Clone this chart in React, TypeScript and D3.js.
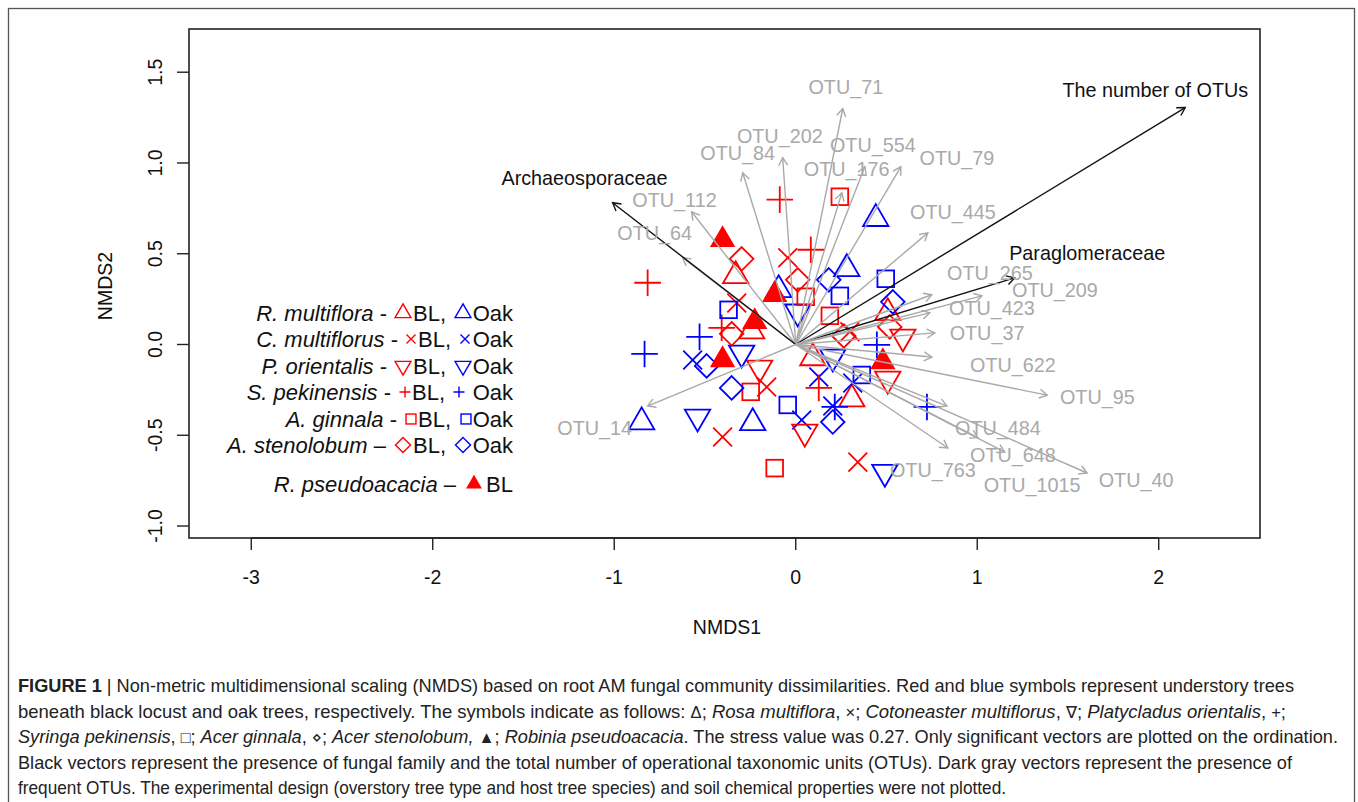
import React from "react";
import * as d3 from "d3";

// ---------- data ----------
const xTicks = [-3, -2, -1, 0, 1, 2];
const yTicks = [-1.0, -0.5, 0.0, 0.5, 1.0, 1.5];
const yTickLabels = ["-1.0", "-0.5", "0.0", "0.5", "1.0", "1.5"];

// site scores [NMDS1, NMDS2]
const rMultifloraBL = [[-0.331, 0.378], [-0.243, 0.074], [0.094, -0.074], [0.507, 0.174], [0.309, -0.301]];
const rMultifloraOak = [[0.441, 0.693], [0.281, 0.417], [-0.094, 0.301], [-0.849, -0.427], [-0.237, -0.432]];
const cMultiflorusBL = [[-0.044, 0.478], [-0.325, 0.229], [-0.16, -0.234], [-0.403, -0.51], [0.342, -0.648], [0.298, 0.07]];
const cMultiflorusOak = [[-0.568, -0.085], [0.127, -0.179], [0.314, -0.212], [0.204, -0.339], [0.033, -0.416]];
const pOrientalisBL = [[-0.199, -0.129], [0.05, -0.482], [0.59, 0.042], [0.507, -0.19]];
const pOrientalisOak = [[-0.298, -0.046], [-0.541, -0.399], [0.011, 0.18], [0.204, -0.068], [0.491, -0.703]];
const sPekinensisBL = [[-0.088, 0.798], [0.083, 0.522], [-0.816, 0.34], [-0.408, 0.092], [0.127, -0.239]];
const sPekinensisOak = [[-0.53, 0.042], [-0.833, -0.052], [0.447, -0.002], [0.215, -0.344], [0.723, -0.344]];
const aGinnalaBL = [[0.243, 0.814], [0.055, 0.263], [0.188, 0.158], [-0.248, -0.261], [-0.116, -0.681]];
const aGinnalaOak = [[-0.37, 0.191], [0.496, 0.362], [0.243, 0.268], [-0.044, -0.333], [0.364, -0.168]];
const aStenolobumBL = [[-0.298, 0.472], [0.011, 0.356], [-0.353, 0.059], [0.518, 0.097], [0.265, 0.047]];
const aStenolobumOak = [[0.182, 0.356], [0.535, 0.235], [-0.491, -0.118], [-0.353, -0.239], [0.204, -0.427]];
const rPseudoacaciaBL = [[-0.403, 0.577], [-0.116, 0.274], [-0.226, 0.125], [-0.403, -0.085], [0.48, -0.096]];

const series = [
  { pts: rMultifloraBL, sym: "tri", col: "red" },
  { pts: rMultifloraOak, sym: "tri", col: "blue" },
  { pts: cMultiflorusBL, sym: "x", col: "red" },
  { pts: cMultiflorusOak, sym: "x", col: "blue" },
  { pts: pOrientalisBL, sym: "tridown", col: "red" },
  { pts: pOrientalisOak, sym: "tridown", col: "blue" },
  { pts: sPekinensisBL, sym: "plus", col: "red" },
  { pts: sPekinensisOak, sym: "plus", col: "blue" },
  { pts: aGinnalaBL, sym: "square", col: "red" },
  { pts: aGinnalaOak, sym: "square", col: "blue" },
  { pts: aStenolobumBL, sym: "diamond", col: "red" },
  { pts: aStenolobumOak, sym: "diamond", col: "blue" },
  { pts: rPseudoacaciaBL, sym: "trifill", col: "red" },
];

// fitted vectors (arrow tip) and label positions
const vectorNames = ["OTU_71", "OTU_202", "OTU_84", "OTU_554", "OTU_176", "OTU_79", "OTU_112", "OTU_64",
  "Archaeosporaceae", "OTU_445", "The number of OTUs", "Paraglomeraceae", "OTU_265", "OTU_209", "OTU_423",
  "OTU_37", "OTU_622", "OTU_95", "OTU_484", "OTU_763", "OTU_648", "OTU_1015", "OTU_40", "OTU_14"];
const vectorX = [0.259, -0.072, -0.292, 0.381, 0.254, 0.579, -0.574, -0.623, -1.009, 0.728, 2.146, 1.206, 0.75, 1.026, 0.739,
  0.766, 0.75, 1.386, 0.833, 0.838, 1.004, 1.152, 1.605, -0.816];
const vectorY = [1.3, 1.029, 0.946, 0.98, 0.836, 0.979, 0.731, 0.478, 0.781, 0.615, 1.305, 0.367, 0.274, 0.268, 0.174,
  0.064, -0.069, -0.279, -0.339, -0.57, -0.513, -0.593, -0.708, -0.339];
const labelX = [0.276, -0.088, -0.32, 0.425, 0.281, 0.888, -0.668, -0.777, -1.164, 0.866, 1.981, 1.606, 1.07, 1.428, 1.081,
  1.054, 1.197, 1.662, 1.114, 0.756, 1.197, 1.302, 1.875, -1.108];
const labelY = [1.421, 1.149, 1.056, 1.101, 0.969, 1.029, 0.797, 0.615, 0.917, 0.731, 1.405, 0.505, 0.395, 0.301, 0.202,
  0.064, -0.112, -0.29, -0.46, -0.692, -0.61, -0.773, -0.747, -0.46];
const familyVectors = ["Archaeosporaceae", "The number of OTUs", "Paraglomeraceae"];

const legendSpecies = ["R. multiflora", "C. multiflorus", "P. orientalis", "S. pekinensis", "A. ginnala", "A. stenolobum", "R. pseudoacacia"];
const legendDash = [" -", " -", " -", " -", " -", " \u2013", " \u2013"];
const legendSymbols = ["tri", "x", "tridown", "plus", "square", "diamond", "trifill"];

// caption segments: b = bold, i = italic, n = normal, s = symbol glyph
const captionLines = [
  [["b", "FIGURE 1"], ["n", " | Non-metric multidimensional scaling (NMDS) based on root AM fungal community dissimilarities. Red and blue symbols represent understory trees"]],
  [["n", "beneath black locust and oak trees, respectively. The symbols indicate as follows: "], ["s", "\u0394"], ["n", "; "], ["i", "Rosa multiflora"], ["n", ", "], ["s", "\u00d7"], ["n", "; "], ["i", "Cotoneaster multiflorus"], ["n", ", "], ["s", "\u2207"], ["n", "; "], ["i", "Platycladus orientalis"], ["n", ", "], ["s", "+"], ["n", ";"]],
  [["i", "Syringa pekinensis"], ["n", ", "], ["s", "\u25a1"], ["n", "; "], ["i", "Acer ginnala"], ["n", ", "], ["s", "\u22c4"], ["n", "; "], ["i", "Acer stenolobum,"], ["n", " "], ["s", "\u25b2"], ["n", "; "], ["i", "Robinia pseudoacacia"], ["n", ". The stress value was 0.27. Only significant vectors are plotted on the ordination."]],
  [["n", "Black vectors represent the presence of fungal family and the total number of operational taxonomic units (OTUs). Dark gray vectors represent the presence of"]],
  [["n", "frequent OTUs. The experimental design (overstory tree type and host tree species) and soil chemical properties were not plotted."]],
];

// ---------- layout ----------
const W = 1358;
const H = 802;
const x = d3.scaleLinear().domain([-3.343, 2.558]).range([189, 1260]);
const y = d3.scaleLinear().domain([-1.066, 1.738]).range([538, 29]);
const FONT = "'Liberation Sans', Arial, Helvetica, sans-serif";
const GRAY = "#a9a9a9";

function Symbol({ sym, cx, cy, s, col, sw }: any) {
  const tr = 1.555 * s, txc = 1.3468 * s, tyc = 0.7775 * s;
  if (sym === "tri" || sym === "trifill") {
    const d = `M${cx},${cy - tr}L${cx + txc},${cy + tyc}L${cx - txc},${cy + tyc}Z`;
    return <path d={d} fill={sym === "trifill" ? col : "none"} stroke={sym === "trifill" ? "none" : col} strokeWidth={sw} />;
  }
  if (sym === "tridown") {
    const d = `M${cx},${cy + tr}L${cx + txc},${cy - tyc}L${cx - txc},${cy - tyc}Z`;
    return <path d={d} fill="none" stroke={col} strokeWidth={sw} />;
  }
  if (sym === "square") {
    const h = 0.886 * s;
    return <rect x={cx - h} y={cy - h} width={2 * h} height={2 * h} fill="none" stroke={col} strokeWidth={sw} />;
  }
  if (sym === "diamond") {
    const h = 1.2533 * s;
    return <path d={`M${cx},${cy - h}L${cx + h},${cy}L${cx},${cy + h}L${cx - h},${cy}Z`} fill="none" stroke={col} strokeWidth={sw} />;
  }
  if (sym === "x") {
    const h = s;
    return <path d={`M${cx - h},${cy - h}L${cx + h},${cy + h}M${cx - h},${cy + h}L${cx + h},${cy - h}`} fill="none" stroke={col} strokeWidth={sw} />;
  }
  // plus
  const h = 1.4142 * s;
  return <path d={`M${cx - h},${cy}L${cx + h},${cy}M${cx},${cy - h}L${cx},${cy + h}`} fill="none" stroke={col} strokeWidth={sw} />;
}

// legend symbol sizes (glyph-like, smaller than plot symbols)
const legendSymSize: any = { tri: 5.9, tridown: 5.9, trifill: 5.9, x: 4.5, plus: 3.9, square: 5.6, diamond: 6.0 };
// legend horizontal layout per row: name end, first symbol, "BL," start, second symbol
const legendLayout = [
  [387, 403, 413, 463],
  [398, 411, 418, 465],
  [387, 403, 413, 463],
  [391, 405, 412, 459],
  [397, 411, 418, 466],
  [386, 403, 413, 463],
  [456, 474, 486, 0],
];
const legendRowY = [313, 339, 366, 392, 419, 445, 484];

const captionWidths = [1276, 1268, 1320, 1274, 988];

export default function App() {
  const ox = x(0), oy = y(0);
  const arrowLen = 9;
  return (
    <svg width={W} height={H} style={{ position: "absolute", left: 0, top: 0, background: "#fff" }} fontFamily={FONT}>
      <rect x={0} y={0} width={W} height={H} fill="#fff" />
      {/* outer frame (continues below the visible area) */}
      <rect x={8.5} y={8.5} width={1346} height={820} fill="none" stroke="#555" strokeWidth={1.3} />

      {/* plot box */}
      <rect x={189} y={29} width={1071} height={509} fill="none" stroke="#222" strokeWidth={1.6} />

      {/* x axis */}
      <line x1={x(xTicks[0])} x2={x(xTicks[xTicks.length - 1])} y1={538} y2={538} stroke="#222" strokeWidth={1.6} />
      {xTicks.map((t) => (
        <g key={"xt" + t}>
          <line x1={x(t)} x2={x(t)} y1={538} y2={550} stroke="#222" strokeWidth={1.4} />
          <text x={x(t)} y={584} textAnchor="middle" fontSize={19.5} fill="#111">{t < 0 ? "-" + Math.abs(t) : String(t)}</text>
        </g>
      ))}
      <text x={727} y={634} textAnchor="middle" fontSize={19.5} fill="#111">NMDS1</text>

      {/* y axis */}
      {yTicks.map((t, i) => (
        <g key={"yt" + t}>
          <line x1={177} x2={189} y1={y(t)} y2={y(t)} stroke="#222" strokeWidth={1.4} />
          <text transform={`translate(162,${y(t)}) rotate(-90)`} textAnchor="middle" fontSize={19.5} fill="#111">{yTickLabels[i]}</text>
        </g>
      ))}
      <text transform={`translate(112,286) rotate(-90)`} textAnchor="middle" fontSize={19.5} fill="#111">NMDS2</text>

      {/* points */}
      {series.map((s, si) =>
        s.pts.map((p, pi) => (
          <Symbol key={`p${si}-${pi}`} sym={s.sym} cx={x(p[0])} cy={y(p[1])} s={9.4} col={s.col} sw={1.8} />
        ))
      )}

      {/* vectors */}
      {vectorNames.map((name, i) => {
        const tx = x(vectorX[i]), ty = y(vectorY[i]);
        const col = familyVectors.includes(name) ? "#111" : GRAY;
        const a = Math.atan2(ty - oy, tx - ox);
        const h1x = tx - arrowLen * Math.cos(a - Math.PI / 6), h1y = ty - arrowLen * Math.sin(a - Math.PI / 6);
        const h2x = tx - arrowLen * Math.cos(a + Math.PI / 6), h2y = ty - arrowLen * Math.sin(a + Math.PI / 6);
        return (
          <g key={"v" + name}>
            <line x1={ox} y1={oy} x2={tx} y2={ty} stroke={col} strokeWidth={1.4} />
            <path d={`M${h1x},${h1y}L${tx},${ty}L${h2x},${h2y}`} fill="none" stroke={col} strokeWidth={1.4} />
          </g>
        );
      })}
      {vectorNames.map((name, i) => (
        <text key={"vl" + name} x={x(labelX[i])} y={y(labelY[i])} dy="0.36em" textAnchor="middle" fontSize={19.8}
          fill={familyVectors.includes(name) ? "#111" : GRAY}>{name}</text>
      ))}

      {/* legend */}
      {legendSpecies.map((sp, i) => {
        const [nEnd, s1, bl, s2] = legendLayout[i];
        const cy = legendRowY[i];
        const base = cy + 8;
        const sym = legendSymbols[i];
        const ss = legendSymSize[sym];
        return (
          <g key={"lg" + i} fontSize={22} fill="#111">
            <text x={nEnd} y={base} textAnchor="end">
              <tspan fontStyle="italic">{sp}</tspan>
              <tspan>{legendDash[i]}</tspan>
            </text>
            <Symbol sym={sym} cx={s1} cy={cy} s={ss} col="red" sw={1.4} />
            {i < 6 ? (
              <>
                <text x={bl} y={base}>BL,</text>
                <Symbol sym={sym} cx={s2} cy={cy} s={ss} col="blue" sw={1.4} />
                <text x={513} y={base} textAnchor="end">Oak</text>
              </>
            ) : (
              <text x={513} y={base} textAnchor="end">BL</text>
            )}
          </g>
        );
      })}

      {/* caption */}
      {captionLines.map((line, li) => (
        <text key={"cap" + li} x={18} y={692 + li * 25.6} fontSize={18.5} fill="#222"
          fontFamily="'Liberation Sans Narrow', 'Liberation Sans', sans-serif"
          textLength={captionWidths[li]} lengthAdjust="spacingAndGlyphs">
          {line.map((seg, si) => (
            <tspan key={si} fontWeight={seg[0] === "b" ? "bold" : "normal"} fontStyle={seg[0] === "i" ? "italic" : "normal"}
              fontSize={seg[0] === "s" ? 16.5 : undefined}
              fontFamily={seg[0] === "s" ? "'Liberation Sans', 'DejaVu Sans', sans-serif" : undefined}>{seg[1]}</tspan>
          ))}
        </text>
      ))}
    </svg>
  );
}
